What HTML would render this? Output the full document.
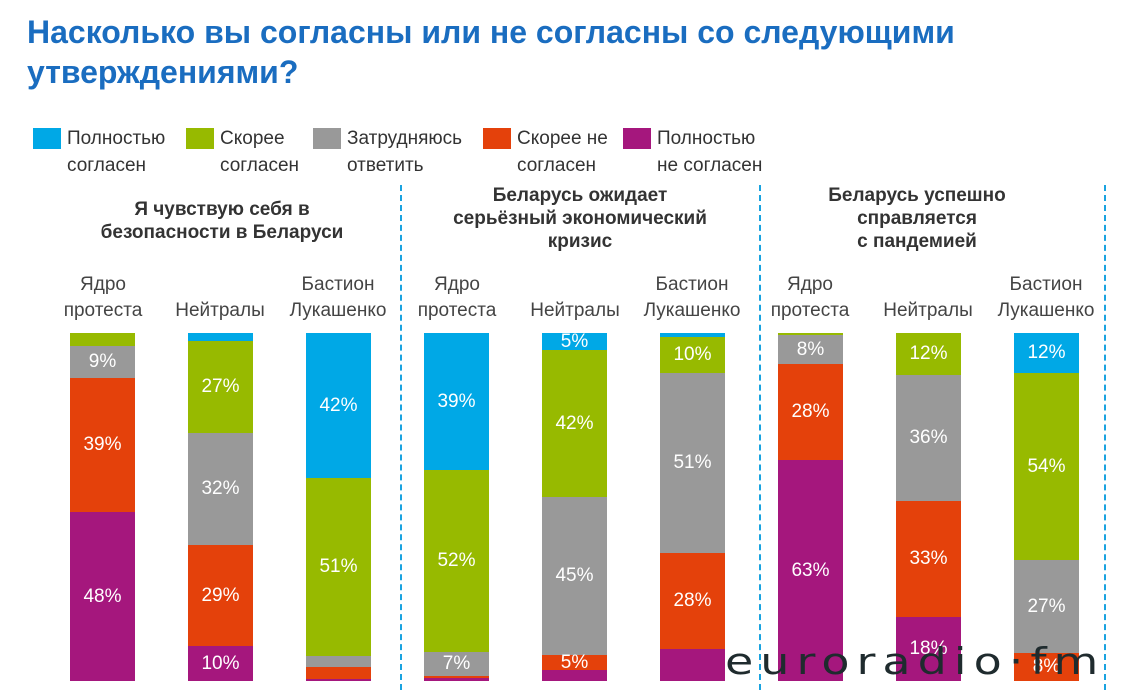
<!DOCTYPE html>
<html><head><meta charset="utf-8"><style>
body{margin:0;width:1123px;height:696px;background:#fff;position:relative;overflow:hidden;font-family:"Liberation Sans",sans-serif}
.a{position:absolute;white-space:nowrap}
.t{left:27px;color:#1a6dc0;font-weight:bold;font-size:32px;line-height:39px}
.sq{position:absolute;width:28px;height:21px;top:128px}
.lg{position:absolute;top:125px;font-size:19px;line-height:27px;color:#333}
.gt{position:absolute;font-weight:bold;font-size:19px;line-height:23px;color:#333;text-align:center;width:320px}
.cl{position:absolute;font-size:19px;line-height:26px;color:#444;text-align:center;width:120px;top:272px}
.bar div{position:absolute;left:0;width:100%;color:#fff;font-size:19px;display:flex;align-items:center;justify-content:center}
.dv{position:absolute;top:185px;height:505px;border-left:2px dashed #1aa3e0}
</style></head><body>
<div class="a t" style="top:13px">Насколько вы согласны или не согласны со следующими</div>
<div class="a t" style="top:53px">утверждениями?</div>
<div class="sq" style="left:33px;background:#00a8e6"></div><div class="lg" style="left:67px">Полностью<br>согласен</div>
<div class="sq" style="left:186px;background:#97ba00"></div><div class="lg" style="left:220px">Скорее<br>согласен</div>
<div class="sq" style="left:313px;background:#999"></div><div class="lg" style="left:347px">Затрудняюсь<br>ответить</div>
<div class="sq" style="left:483px;background:#e4410b"></div><div class="lg" style="left:517px">Скорее не<br>согласен</div>
<div class="sq" style="left:623px;background:#a5177d"></div><div class="lg" style="left:657px">Полностью<br>не согласен</div>
<div class="dv" style="left:400px"></div><div class="dv" style="left:759px"></div><div class="dv" style="left:1104px"></div>
<div class="gt" style="left:62px;top:198px">Я чувствую себя в<br>безопасности в Беларуси</div>
<div class="gt" style="left:420px;top:184px">Беларусь ожидает<br>серьёзный экономический<br>кризис</div>
<div class="gt" style="left:757px;top:184px">Беларусь успешно<br>справляется<br>с пандемией</div>
<div class="cl" style="left:43px">Ядро<br>протеста</div>
<div class="cl" style="left:160px;top:298px">Нейтралы</div>
<div class="cl" style="left:278px">Бастион<br>Лукашенко</div>
<div class="cl" style="left:397px">Ядро<br>протеста</div>
<div class="cl" style="left:515px;top:298px">Нейтралы</div>
<div class="cl" style="left:632px">Бастион<br>Лукашенко</div>
<div class="cl" style="left:750px">Ядро<br>протеста</div>
<div class="cl" style="left:868px;top:298px">Нейтралы</div>
<div class="cl" style="left:986px">Бастион<br>Лукашенко</div>
<div id="bars"></div>
<div class="a" style="left:725px;top:634px;font-size:46px;color:#1f2b2e;letter-spacing:7px;font-family:'DejaVu Sans',sans-serif;transform:scaleY(0.8)">euroradio·fm</div>
<script>
var C=['#00a8e6','#97ba00','#999999','#e4410b','#a5177d'];
var B=[[70,[333,333,346,378,512,681],['','','9%','39%','48%']],
[188,[333,341,433,545,646,681],['','27%','32%','29%','10%']],
[306,[333,478,656,667,679,681],['42%','51%','','','']],
[424,[333,470,652,676,678,681],['39%','52%','7%','','']],
[542,[333,350,497,655,670,681],['5%','42%','45%','5%','']],
[660,[333,337,373,553,649,681],['','10%','51%','28%','']],
[778,[333,333,335,364,460,681],['','','8%','28%','63%']],
[896,[333,333,375,501,617,681],['','12%','36%','33%','18%']],
[1014,[333,373,560,653,681,681],['12%','54%','27%','8%','']]];
var h='';
B.forEach(function(b){h+='<div class="bar" style="position:absolute;left:'+b[0]+'px;top:0;width:65px;height:696px">';
for(var i=0;i<5;i++){var y0=b[1][i],y1=b[1][i+1];if(y1<=y0)continue;h+='<div style="top:'+y0+'px;height:'+(y1-y0)+'px;background:'+C[i]+'">'+b[2][i]+'</div>';}
h+='</div>';});
document.getElementById('bars').innerHTML=h;
</script>
</body></html>
